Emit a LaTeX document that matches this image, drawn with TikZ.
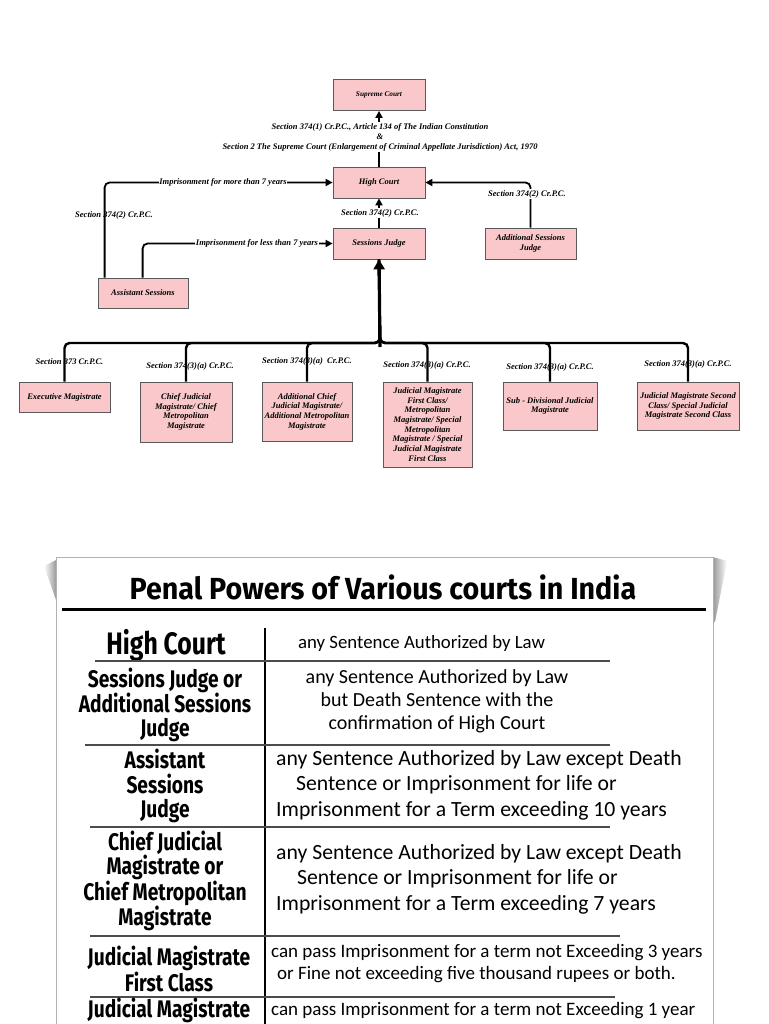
\documentclass[tikz,border=0pt]{standalone}
\usepackage{fontspec}
\setmainfont{Liberation Serif}
\newfontfamily\calfont{Carlito}
\newfontfamily\headfont[FakeStretch=0.8]{Fira Sans}
\newfontfamily\titlefont[FakeStretch=0.94]{Fira Sans}
\usetikzlibrary{arrows.meta}
\definecolor{boxpink}{RGB}{250,200,202}
\begin{document}
\begin{tikzpicture}[x=1pt,y=-1pt,
  box/.style={draw=black!65, fill=boxpink, line width=0.8pt, align=center, inner sep=0.5pt,
    font=\bfseries\itshape\fontsize{8.5}{9.7}\selectfont},
  lbl/.style={inner sep=0.8pt, align=center, font=\bfseries\itshape\fontsize{8.5}{10}\selectfont},
  wlbl/.style={lbl, fill=white},
  conn/.style={line width=1.8pt, rounded corners=5pt},
  tip/.style={-{Triangle[width=7pt,length=7pt]}},
  busline/.style={line width=2.4pt, rounded corners=5pt},
  bigtip/.style={line width=3.2pt, -{Triangle[width=11pt,length=10pt]}},
  head/.style={align=center, inner sep=0pt, font=\headfont\bfseries\fontsize{24}{24}\selectfont},
  rt/.style={align=left, anchor=west, inner sep=0pt, font=\calfont\fontsize{21.7}{25.5}\selectfont},
  rowrule/.style={draw=black!70, line width=1.3pt}]
\useasboundingbox (0,0) rectangle (768,1024);
\fill[white] (0,0) rectangle (768,1024);

% ---------------- top diagram ----------------
\node[box, minimum width=92pt, minimum height=31pt, font=\bfseries\itshape\fontsize{7.3}{9}\selectfont] (sc) at (379,95) {Supreme Court};
\node[box, minimum width=92pt, minimum height=31pt] (hc) at (379,182.5) {High Court};
\node[box, minimum width=92pt, minimum height=31pt] (sj) at (379,243.5) {Sessions Judge};
\node[box, minimum width=91pt, minimum height=31pt] (asj) at (530.5,243.5) {Additional Sessions\\Judge};
\node[box, minimum width=90pt, minimum height=30pt] (as) at (143,293) {Assistant Sessions};

\draw[conn, tip] (hc.north) -- (sc.south);
\node[wlbl] (scl) at (380,137) {Section 374(1) Cr.P.C., Article 134 of The Indian Constitution\\\&\\Section 2 The Supreme Court (Enlargement of Criminal Appellate Jurisdiction) Act, 1970};

\draw[conn, tip] (sj.north) -- (hc.south);
\node[wlbl] (sjl) at (380,213) {Section 374(2) Cr.P.C.};

\draw[conn, tip] (asj.north) |- (hc.east);
\node[wlbl] (asjl) at (527,194) {Section 374(2) Cr.P.C.};

\draw[conn, tip] ([xshift=7pt]as.north west) |- (hc.west);
\node[wlbl] (asl1) at (223,182.5) {Imprisonment for more than 7 years};
\node[lbl] (asl2) at (114,215) {Section 374(2) Cr.P.C.};

\draw[conn, tip] ([xshift=45pt]as.north west) |- (sj.west);
\node[wlbl] (asl3) at (257,243.5) {Imprisonment for less than 7 years};

% magistrate boxes
\node[box, minimum width=91pt, minimum height=30pt] (c1) at (64.5,397) {Executive Magistrate};
\node[box, minimum width=92pt, minimum height=60pt] (c2) at (186,412) {Chief Judicial\\Magistrate/ Chief\\Metropolitan\\Magistrate};
\node[box, minimum width=90pt, minimum height=59pt] (c3) at (307,411.5) {Additional Chief\\Judicial Magistrate/\\Additional Metropolitan\\Magistrate};
\node[box, minimum width=89pt, minimum height=85pt] (c4) at (427.5,424.5) {Judicial Magistrate\\First Class/\\Metropolitan\\Magistrate/ Special\\Metropolitan\\Magistrate / Special\\Judicial Magistrate\\First Class};
\node[box, minimum width=94pt, minimum height=48pt] (c5) at (550,406) {Sub - Divisional Judicial\\Magistrate};
\node[box, minimum width=102pt, minimum height=48pt] (c6) at (688,406) {Judicial Magistrate Second\\Class/ Special Judicial\\Magistrate Second Class};

\coordinate (hub) at (380,343);
\foreach \c in {c1,c2,c3,c4,c5,c6}{
  \draw[busline] (\c.north) |- (hub) -- (sj.south);
}
\draw[bigtip] ([yshift=-4pt]hub) -- (sj.south);

\node[lbl] (l1) at (69.5,362) {Section 373 Cr.P.C.};
\node[lbl] (l2) at (190,366) {Section 374(3)(a) Cr.P.C.};
\node[lbl] (l3) at (307,361) {Section 374(3)(a) \ Cr.P.C.};
\node[lbl] (l4) at (427,365) {Section 374(3)(a) Cr.P.C.};
\node[lbl] (l5) at (550,367) {Section 374(3)(a) Cr.P.C.};
\node[lbl] (l6) at (688,364) {Section 374(3)(a) Cr.P.C.};

% ---------------- bottom table ----------------
\shade[left color=white, right color=black!40] (44,566) -- (56,560) -- (56,600) -- cycle;
\shade[left color=black!40, right color=white] (713,557) -- (727,561) -- (715,622) -- (713,622) -- cycle;
\draw[draw=black!30, fill=white, line width=0.8pt] (56,557) rectangle (713,1030);

\node[font=\titlefont\bfseries\fontsize{30.5}{32}\selectfont, inner sep=0pt] (title) at (383,587) {Penal Powers of Various courts in India};
\draw[line width=3pt] (62,609) -- (706,609);

\draw[line width=2.4pt] (265,628) -- (265,1024);

\node[head, font=\headfont\bfseries\fontsize{31}{32}\selectfont] (h1) at (166,645) {High Court};
\node[rt, font=\calfont\fontsize{18.8}{23}\selectfont] (r1) at (298,643) {any Sentence Authorized by Law};
\draw[rowrule] (95,661) -- (610,661);

\node[head] (h2) at (165,705) {Sessions Judge or\\Additional Sessions\\Judge};
\node[align=center, inner sep=0pt, font=\calfont\fontsize{20}{23}\selectfont] (r2) at (437,701) {any Sentence Authorized by Law\\but Death Sentence with the\\confirmation of High Court};
\draw[rowrule] (85,745) -- (610,745);

\node[head, font=\headfont\bfseries\fontsize{24}{24.5}\selectfont] (h3) at (165,786) {Assistant\\Sessions\\Judge};
\node[rt] (r3) at (276,785) {any Sentence Authorized by Law except Death\\\hspace*{20pt}Sentence or Imprisonment for life or\\Imprisonment for a Term exceeding 10 years};
\draw[rowrule] (90,827) -- (610,827);

\node[head] (h4) at (165,881) {Chief Judicial\\Magistrate or\\Chief Metropolitan\\Magistrate};
\node[rt] (r4) at (276,879) {any Sentence Authorized by Law except Death\\\hspace*{21pt}Sentence or Imprisonment for life or\\Imprisonment for a Term exceeding 7 years};
\draw[rowrule] (90,936) -- (620,936);

\node[head] (h5) at (169,969) {Judicial Magistrate\\First Class};
\node[rt, font=\calfont\fontsize{19}{22}\selectfont] (r5) at (271,964) {can pass Imprisonment for a term not Exceeding 3 years\\\hspace*{6pt}or Fine not exceeding five thousand rupees or both.};
\draw[rowrule] (90,997) -- (615,997);

\node[head] (h6) at (169,1010) {Judicial Magistrate};
\node[rt, font=\calfont\fontsize{19}{22}\selectfont] (r6) at (271,1011) {can pass Imprisonment for a term not Exceeding 1 year};
\end{tikzpicture}
\end{document}
